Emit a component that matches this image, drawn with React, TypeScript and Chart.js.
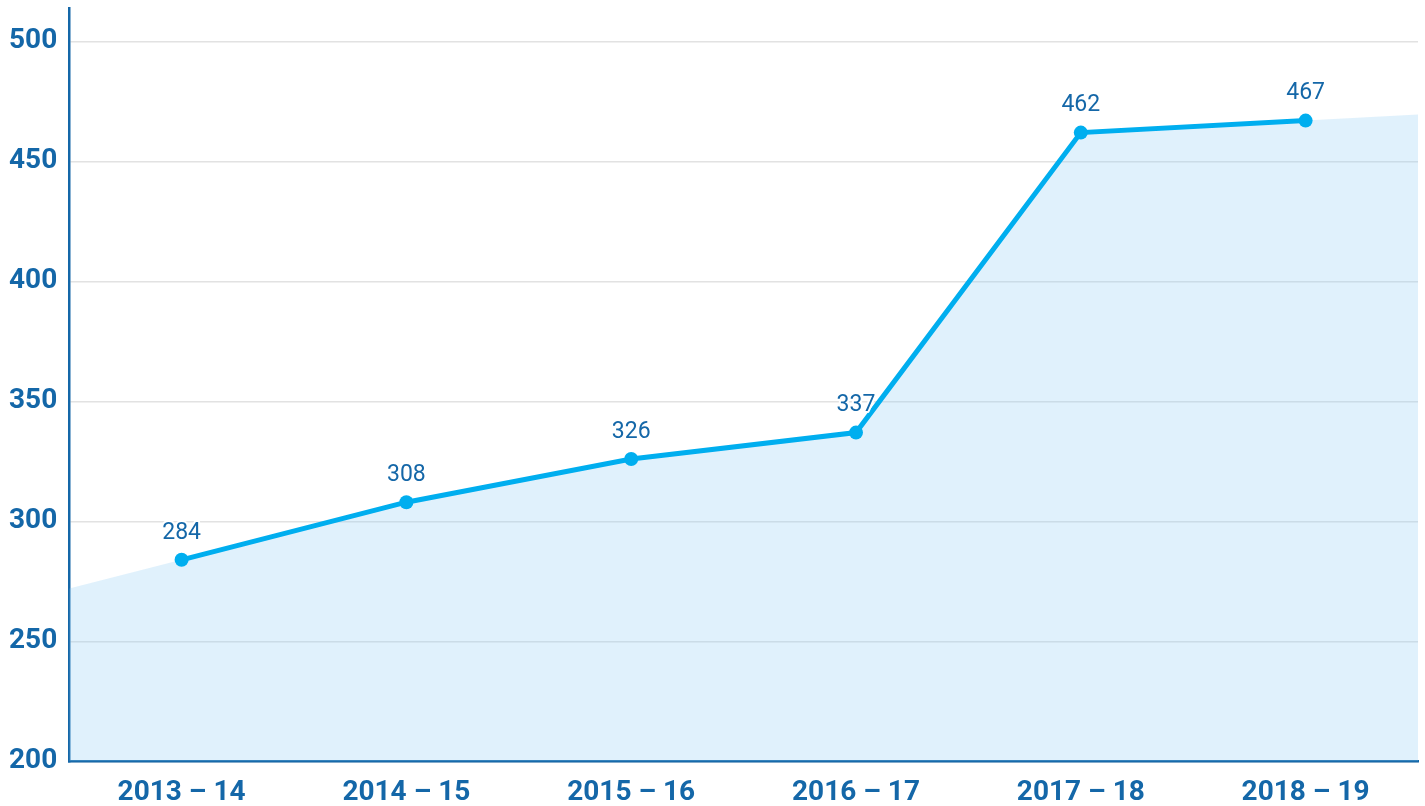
import React, { useEffect, useRef } from "react";
import { Chart, registerables } from "chart.js";

Chart.register(...registerables);

const categories = ["2013 – 14", "2014 – 15", "2015 – 16", "2016 – 17", "2017 – 18", "2018 – 19"];
const values = [284, 308, 326, 337, 462, 467];
// fill reaches the plot edges: value at the left edge and at the right edge
const edgeValues = [272, 469.5];
const yTickValues = [200, 250, 300, 350, 400, 450, 500];

const DARK = "#1467a8";
const LINE = "#00aeef";

const areaPoints = [
  { x: -0.5, y: edgeValues[0] },
  ...values.map((v, i) => ({ x: i, y: v })),
  { x: values.length - 0.5, y: edgeValues[1] },
];

const labelPlugin = {
  id: "pointLabels",
  afterDatasetsDraw(chart: any) {
    const meta = chart.getDatasetMeta(0);
    const ctx = chart.ctx;
    ctx.save();
    ctx.font = "23px Roboto";
    ctx.textAlign = "center";
    ctx.textBaseline = "middle";
    meta.data.forEach((pt: any, i: number) => {
      const x = pt.x;
      const y = pt.y - 27;
      const t = String(values[i]);
      ctx.lineWidth = 4;
      ctx.strokeStyle = "#ffffff";
      ctx.lineJoin = "round";
      ctx.strokeText(t, x, y);
      ctx.fillStyle = DARK;
      ctx.fillText(t, x, y);
    });
    ctx.restore();
  },
};

export default function App() {
  const ref = useRef<HTMLCanvasElement>(null);
  useEffect(() => {
    if (!ref.current) return;
    const chart = new Chart(ref.current, {
      type: "line",
      data: {
        labels: categories,
        datasets: [
          {
            data: values,
            borderColor: LINE,
            backgroundColor: LINE,
            borderWidth: 5,
            pointRadius: 7,
            pointBackgroundColor: LINE,
            pointBorderWidth: 0,
            tension: 0,
            fill: false,
            order: 1,
            xAxisID: "x",
          } as any,
          {
            data: areaPoints,
            xAxisID: "x2",
            borderWidth: 0,
            pointRadius: 0,
            backgroundColor: "rgba(140, 205, 245, 0.27)",
            fill: "start",
            tension: 0,
            order: 2,
          } as any,
        ],
      },
      options: {
        animation: false,
        responsive: true,
        maintainAspectRatio: false,
        layout: { padding: { top: 0, right: 7, left: -3, bottom: -15 } },
        plugins: { legend: { display: false }, tooltip: { enabled: false } },
        scales: {
          x: {
            type: "category",
            offset: true,
            grid: { display: false, drawTicks: false },
            border: { color: DARK, width: 2.5 },
            ticks: {
              color: DARK,
              font: { family: "Roboto", size: 28, weight: "bold" },
              padding: 15,
              maxRotation: 0,
            },
          },
          x2: {
            type: "linear",
            min: -0.5,
            max: values.length - 0.5,
            display: false,
          },
          y: {
            min: 200,
            max: 514,
            afterBuildTicks: (axis: any) => {
              axis.ticks = yTickValues.map((v) => ({ value: v }));
            },
            grid: { color: "#e2e2e2", lineWidth: 1.5, drawTicks: false },
            border: { color: DARK, width: 2.5 },
            ticks: {
              color: DARK,
              font: { family: "Roboto", size: 28, weight: "bold" },
              padding: 12,
            },
          },
        },
      },
      plugins: [labelPlugin],
    });
    return () => chart.destroy();
  }, []);
  return (
    <div style={{ position: "fixed", left: 0, top: 0, width: 1425, height: 806, background: "#fff", overflow: "hidden" }}>
      <div style={{ position: "absolute", left: 0, top: -21, width: 1425, height: 831 }}>
        <canvas ref={ref} />
      </div>
    </div>
  );
}
